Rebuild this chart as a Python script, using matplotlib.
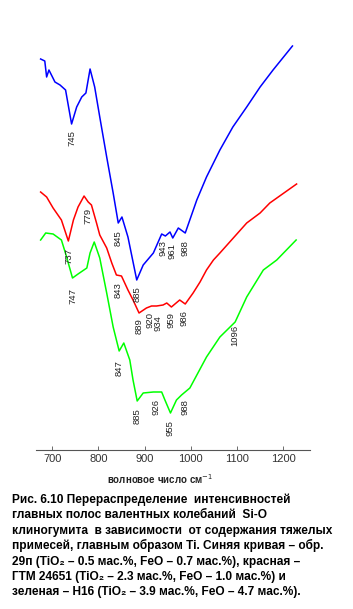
import matplotlib
matplotlib.use("Agg")
import matplotlib.pyplot as plt

plt.rcParams["font.family"] = ["Liberation Sans", "DejaVu Sans"]

# волновое число, см-1 и интенсивность (отн. ед.)
blue_wn = [675, 684, 688, 693, 706, 717, 729, 742, 753, 764, 773, 782, 792, 803,
           818, 832, 843, 851, 864, 883, 897, 919, 937, 945, 955, 961, 973, 988,
           1013, 1034, 1063, 1091, 1121, 1150, 1178, 1220]
blue_y = [3.91, 3.89, 3.73, 3.80, 3.68, 3.65, 3.60, 3.26, 3.43, 3.53, 3.57, 3.81,
          3.63, 3.33, 2.93, 2.57, 2.27, 2.33, 2.13, 1.70, 1.85, 1.97, 2.16, 2.14,
          2.18, 2.12, 2.22, 2.17, 2.50, 2.73, 3.00, 3.23, 3.43, 3.63, 3.80, 4.04]

red_wn = [675, 688, 702, 720, 735, 746, 756, 769, 778, 785, 796, 803, 818, 829,
          839, 850, 864, 875, 888, 904, 915, 926, 940, 948, 958, 976, 988, 1005,
          1020, 1034, 1049, 1063, 1092, 1121, 1150, 1171, 1229]
red_y = [2.58, 2.53, 2.42, 2.30, 2.09, 2.30, 2.43, 2.54, 2.48, 2.45, 2.27, 2.15,
         2.02, 1.87, 1.75, 1.74, 1.60, 1.50, 1.37, 1.42, 1.44, 1.44, 1.45, 1.47,
         1.43, 1.50, 1.46, 1.57, 1.68, 1.80, 1.90, 1.97, 2.12, 2.27, 2.37, 2.47,
         2.66]

green_wn = [675, 686, 702, 720, 730, 744, 756, 775, 782, 791, 803, 818, 832, 845,
            855, 868, 875, 884, 897, 919, 937, 944, 956, 969, 980, 998, 1034,
            1063, 1096, 1121, 1157, 1186, 1228]
green_y = [2.10, 2.17, 2.16, 2.10, 1.95, 1.72, 1.76, 1.82, 1.97, 2.08, 1.92, 1.57,
           1.23, 0.99, 1.07, 0.90, 0.70, 0.49, 0.57, 0.58, 0.58, 0.50, 0.37, 0.50,
           0.55, 0.62, 0.93, 1.13, 1.28, 1.53, 1.80, 1.90, 2.10]

# подписи полос: текст, положение по x, верх подписи по y
blue_labels = ["745", "845", "885", "943", "961", "988"]
blue_lx = [743, 843, 883, 940, 960, 988]
blue_ly = [3.20, 2.20, 1.64, 2.10, 2.07, 2.10]

red_labels = ["737", "779", "843", "889", "920", "934", "959", "986"]
red_lx = [736, 778, 842, 888, 911, 930, 958, 985]
red_ly = [2.02, 2.42, 1.68, 1.32, 1.38, 1.35, 1.38, 1.40]

green_labels = ["747", "847", "885", "926", "955", "988", "1096"]
green_lx = [746, 845, 883, 925, 955, 988, 1096]
green_ly = [1.62, 0.90, 0.42, 0.51, 0.30, 0.51, 1.25]

xticks = [700, 800, 900, 1000, 1100, 1200]

caption = [
    "Рис. 6.10 Перераспределение  интенсивностей",
    "главных полос валентных колебаний  Si-O",
    "клиногумита  в зависимости  от содержания тяжелых",
    "примесей, главным образом Ti. Синяя кривая – обр.",
    "29п (TiO₂ – 0.5 мас.%, FeO – 0.7 мас.%), красная –",
    "ГТМ 24651 (TiO₂ – 2.3 мас.%, FeO – 1.0 мас.%) и",
    "зеленая – Н16 (TiO₂ – 3.9 мас.%, FeO – 4.7 мас.%).",
]

W, H = 353, 609
fig = plt.figure(figsize=(W / 100, H / 100), dpi=100)
ax = fig.add_axes([36 / W, 1 - 450 / H, 274 / W, 410 / H])

for wn, y, c in [(blue_wn, blue_y, "#0000ff"), (red_wn, red_y, "#ff0000"),
                 (green_wn, green_y, "#00ff00")]:
    ax.plot(wn, y, color=c, lw=1.1)

for labels, lx, ly in [(blue_labels, blue_lx, blue_ly), (red_labels, red_lx, red_ly),
                       (green_labels, green_lx, green_ly)]:
    for t, x, y in zip(labels, lx, ly):
        ax.text(x, y, t, rotation=90, ha="center", va="top", fontsize=6.8,
                color="#222222")

ax.set_xlim(665, 1258)
ax.set_ylim(0, 4.1)
for s in ["top", "left", "right"]:
    ax.spines[s].set_visible(False)
ax.spines["bottom"].set_color("#555555")
ax.spines["bottom"].set_linewidth(0.8)
ax.set_yticks([])
ax.set_xticks(xticks)
ax.tick_params(axis="x", direction="in", length=3, width=0.6, color="#555555",
               labelsize=8, labelcolor="#333333", pad=3)

fig.text(160 / W, 1 - 479 / H, "волновое число см$^{-1}$", ha="center",
         va="center", fontsize=7, fontweight="bold", color="#222222")

for i, line in enumerate(caption):
    fig.text(12 / W, 1 - (503 + i * 15.4) / H, line, ha="left", va="baseline",
             fontsize=8.6, fontweight="bold", color="black")

fig.savefig("out.png", dpi=100)
